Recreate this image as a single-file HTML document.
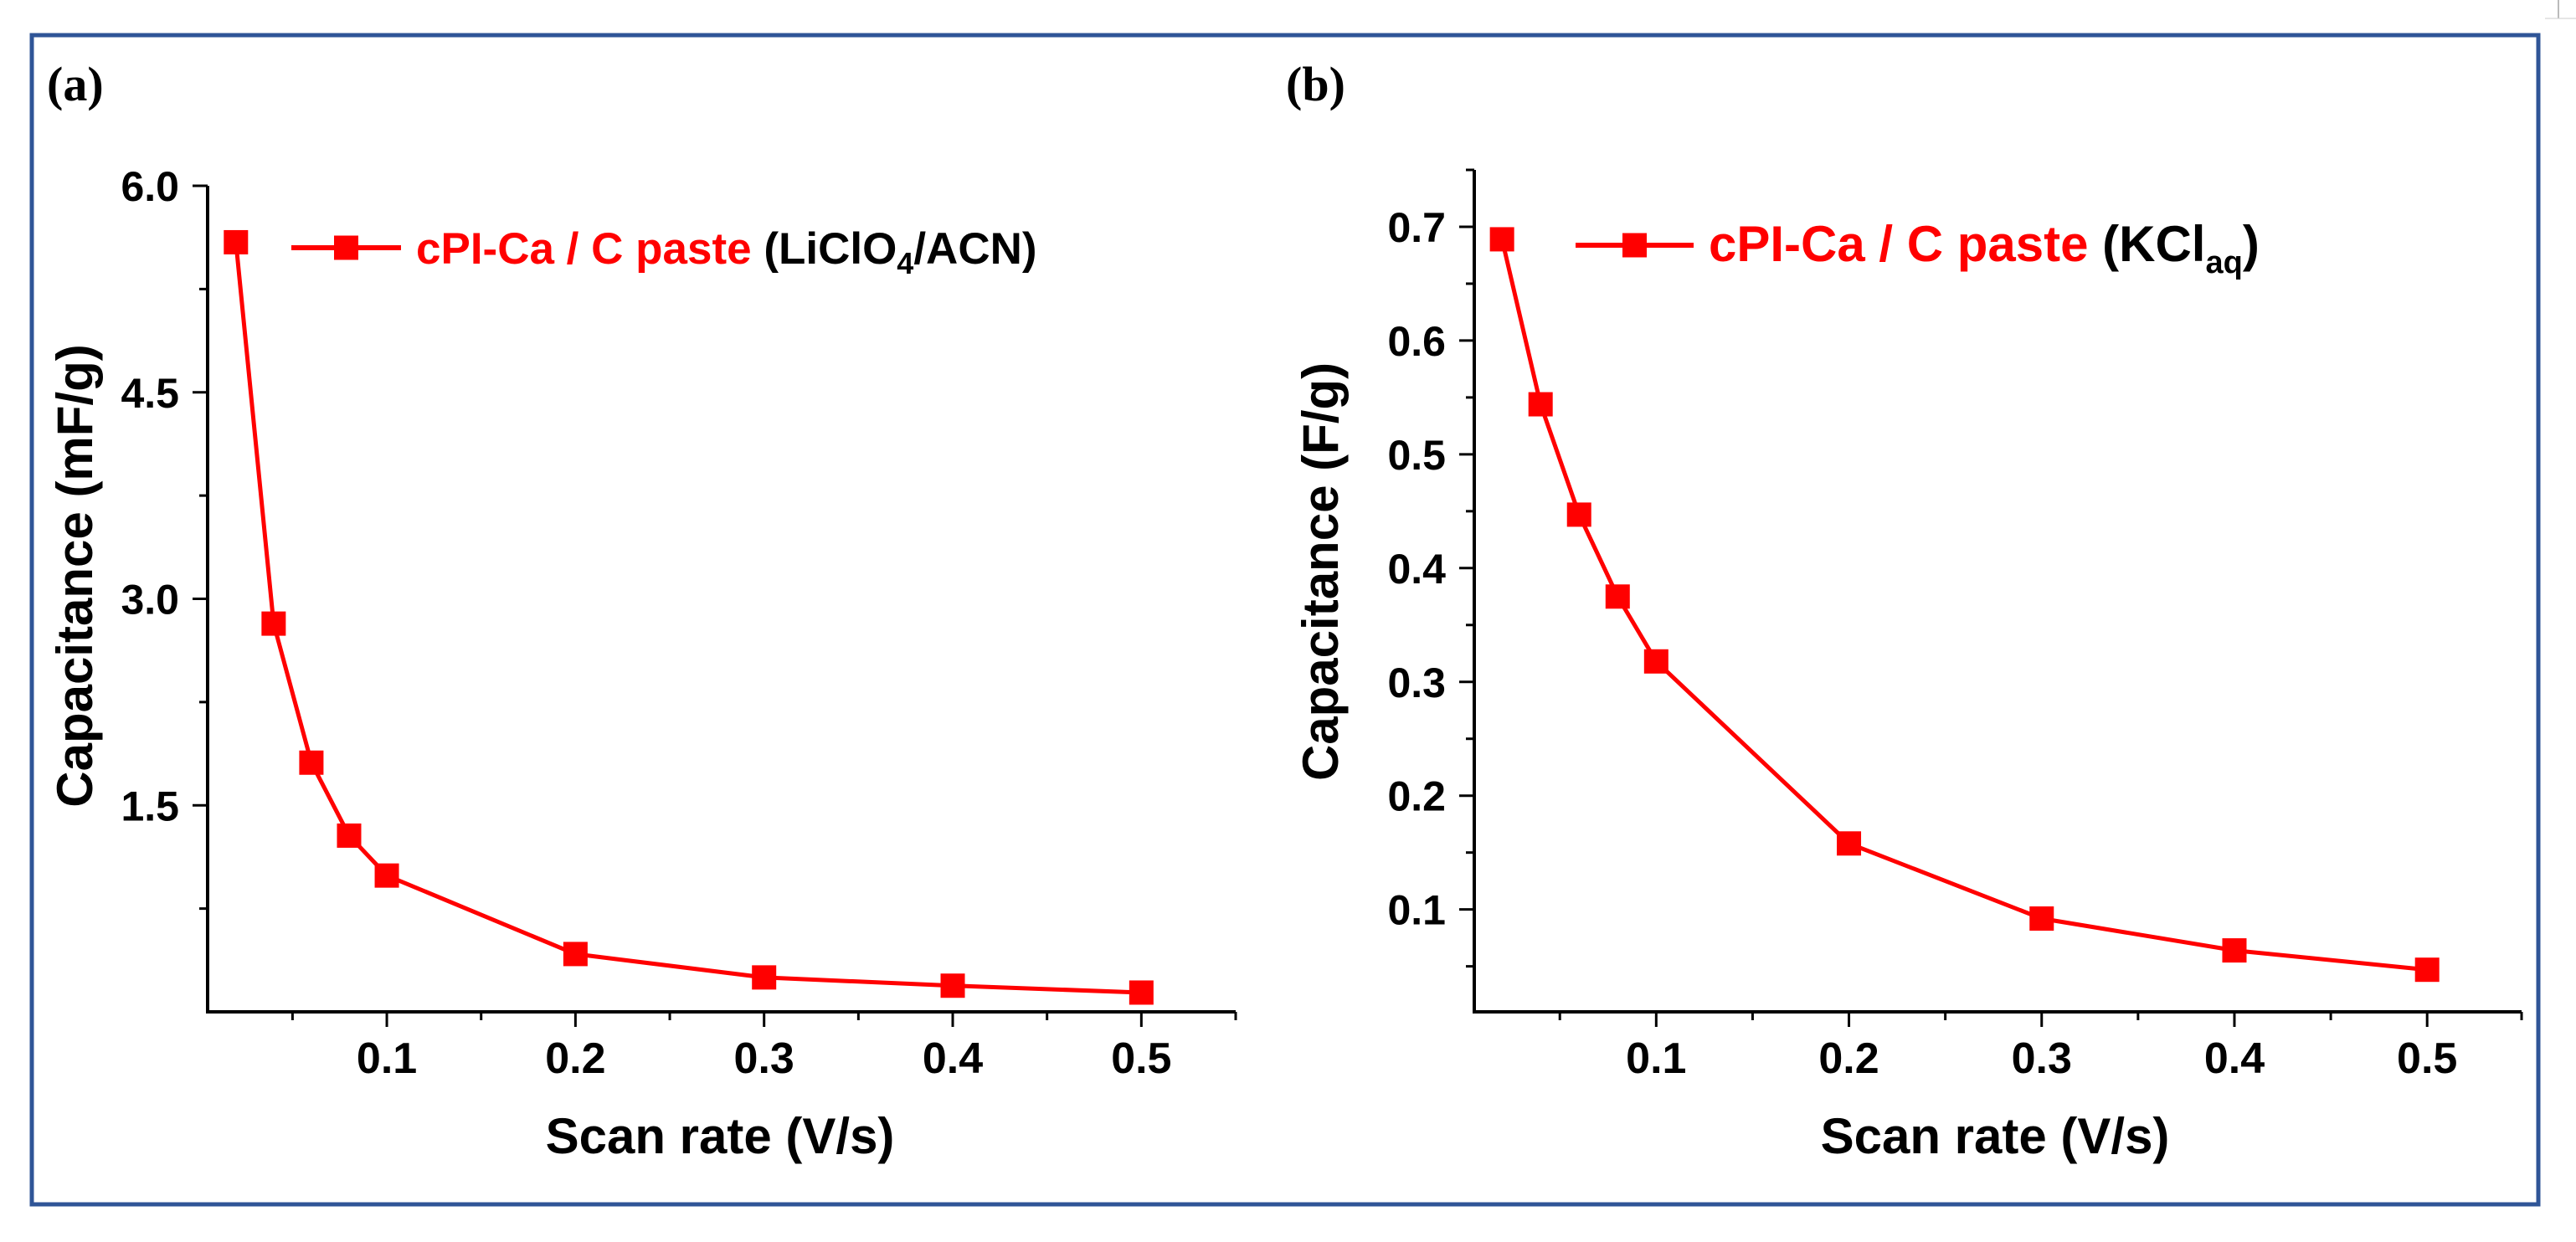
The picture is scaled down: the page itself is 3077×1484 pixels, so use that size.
<!DOCTYPE html>
<html><head><meta charset="utf-8"><style>
html,body{margin:0;padding:0;background:#fff;}
svg{display:block;font-family:"Liberation Sans",Arial,sans-serif;}
</style></head><body>
<svg id="fig" width="3077" height="1484" viewBox="0 0 3077 1484" xmlns="http://www.w3.org/2000/svg">
<rect x="0" y="0" width="3077" height="1484" fill="#fff"/>
<rect x="38" y="42" width="2994" height="1397" fill="none" stroke="#2f5597" stroke-width="5"/>
<line x1="3056" y1="0" x2="3056" y2="22" stroke="#bbb" stroke-width="2"/>
<line x1="3040" y1="22" x2="3077" y2="22" stroke="#ccc" stroke-width="1"/>
<text x="56" y="120" font-family="Liberation Serif,serif" font-weight="bold" font-size="58">(a)</text>
<text x="1536" y="120" font-family="Liberation Serif,serif" font-weight="bold" font-size="58">(b)</text>
<g id="pa"></g>
<g id="pb"></g>
</svg>
<script>
const xA = [0.02,0.04,0.06,0.08,0.1,0.2,0.3,0.4,0.5];
const yA = [5.59,2.82,1.81,1.28,0.99,0.42,0.25,0.19,0.14];
const xB = [0.02,0.04,0.06,0.08,0.1,0.2,0.3,0.4,0.5];
const yB = [0.689,0.544,0.447,0.375,0.318,0.158,0.092,0.064,0.047];
const xTicks = [0.1,0.2,0.3,0.4,0.5];
const xTickLabels = ["0.1","0.2","0.3","0.4","0.5"];
const yTicksA = [1.5,3.0,4.5,6.0];
const yTickLabelsA = ["1.5","3.0","4.5","6.0"];
const yTicksB = [0.1,0.2,0.3,0.4,0.5,0.6,0.7];
const yTickLabelsB = ["0.1","0.2","0.3","0.4","0.5","0.6","0.7"];

const NS="http://www.w3.org/2000/svg";
function mk(parent,tag,attrs,text){const e=document.createElementNS(NS,tag);for(const k in attrs)e.setAttribute(k,attrs[k]);if(text!==undefined)e.textContent=text;parent.appendChild(e);return e;}

function drawPanel(g,cfg){
  const sx=v=>cfg.x0+(v-cfg.xmin)/(cfg.xmax-cfg.xmin)*(cfg.x1-cfg.x0);
  const sy=v=>cfg.y0-(v-cfg.ymin)/(cfg.ymax-cfg.ymin)*(cfg.y0-cfg.y1);
  const ax=mk(g,'path',{d:`M${cfg.x0},${cfg.y1}V${cfg.y0}H${cfg.x1}`,fill:'none',stroke:'#000','stroke-width':4});
  
  
  // x minor ticks
  for(let v=0.05;v<cfg.xmax;v+=0.1){const t=mk(g,'line',{x1:sx(v),x2:sx(v),y1:cfg.y0,y2:cfg.y0+10,stroke:'#000','stroke-width':3});}
  const te=mk(g,'line',{x1:cfg.x1,x2:cfg.x1,y1:cfg.y0,y2:cfg.y0+10,stroke:'#000','stroke-width':3});
  
  
  xTicks.forEach((v,i)=>{
    const t=mk(g,'line',{x1:sx(v),x2:sx(v),y1:cfg.y0,y2:cfg.y0+18,stroke:'#000','stroke-width':3});
    
    
    const l=mk(g,'text',{x:sx(v),y:cfg.y0+73,'text-anchor':'middle','font-weight':'bold','font-size':52},xTickLabels[i]);
    
    
  });
  cfg.yMinor.forEach(v=>{const t=mk(g,'line',{x1:cfg.x0,x2:cfg.x0-10,y1:sy(v),y2:sy(v),stroke:'#000','stroke-width':3});});
  cfg.yTicks.forEach((v,i)=>{
    const t=mk(g,'line',{x1:cfg.x0,x2:cfg.x0-18,y1:sy(v),y2:sy(v),stroke:'#000','stroke-width':3});
    
    
    const l=mk(g,'text',{x:cfg.x0-34,y:sy(v)+18,'text-anchor':'end','font-weight':'bold','font-size':50},cfg.yLabels[i]);
    
    
  });
  const xt=mk(g,'text',{x:cfg.xtX,y:1378,'text-anchor':'middle','font-weight':'bold','font-size':60},'Scan rate (V/s)');
  
  
  const yt=mk(g,'text',{x:0,y:0,'text-anchor':'middle','font-weight':'bold','font-size':60,transform:`translate(${cfg.ytX},${cfg.ytY}) rotate(-90)`},cfg.ytitle);
  
  
  const pts=cfg.xs.map((x,i)=>sx(x)+','+sy(cfg.ys[i])).join(' ');
  const ln=mk(g,'polyline',{points:pts,fill:'none',stroke:'#ff0000','stroke-width':5});
  
  
  cfg.xs.forEach((x,i)=>{
    const m=mk(g,'rect',{x:sx(x)-14.5,y:sy(cfg.ys[i])-14.5,width:29,height:29,fill:'#ff0000'});
    
    
  });
  // legend
  const lg=mk(g,'g',{});
  
  
  mk(lg,'line',{x1:cfg.lgX0,x2:cfg.lgX1,y1:cfg.lgY,y2:cfg.lgY,stroke:'#ff0000','stroke-width':6});
  mk(lg,'rect',{x:(cfg.lgX0+cfg.lgX1)/2-14.5,y:cfg.lgY-14.5,width:29,height:29,fill:'#ff0000'});
  const tx=mk(lg,'text',{x:cfg.lgX1+18,y:cfg.lgY+19,'font-weight':'bold','font-size':cfg.lgFs});
  tx.innerHTML=cfg.lgHtml;
}
drawPanel(document.getElementById('pa'),{
  x0:248,x1:1476,xmin:0.005,xmax:0.55,y0:1209,y1:222,ymin:0,ymax:6,
  xs:xA,ys:yA,yTicks:yTicksA,yLabels:yTickLabelsA,yMinor:[0.75,2.25,3.75,5.25],
  xtX:860,ytX:110,ytY:688,ytitle:'Capacitance (mF/g)',
  lgX0:348,lgX1:479,lgY:296,lgFs:53,
  lgHtml:'<tspan fill="#ff0000">cPI-Ca / C paste</tspan><tspan fill="#000"> (LiClO</tspan><tspan fill="#000" font-size="36" dy="12">4</tspan><tspan fill="#000" dy="-12">/ACN)</tspan>'
});
drawPanel(document.getElementById('pb'),{
  x0:1761,x1:3012,xmin:0.0056,xmax:0.549,y0:1209,y1:203,ymin:0.01,ymax:0.75,
  xs:xB,ys:yB,yTicks:yTicksB,yLabels:yTickLabelsB,yMinor:[0.05,0.15,0.25,0.35,0.45,0.55,0.65,0.75],
  xtX:2383,ytX:1598,ytY:683,ytitle:'Capacitance (F/g)',
  lgX0:1882,lgX1:2023,lgY:293,lgFs:60,
  lgHtml:'<tspan fill="#ff0000">cPI-Ca / C paste</tspan><tspan fill="#000"> (KCl</tspan><tspan fill="#000" font-size="38" dy="14">aq</tspan><tspan fill="#000" dy="-14">)</tspan>'
});
</script>
</body></html>
